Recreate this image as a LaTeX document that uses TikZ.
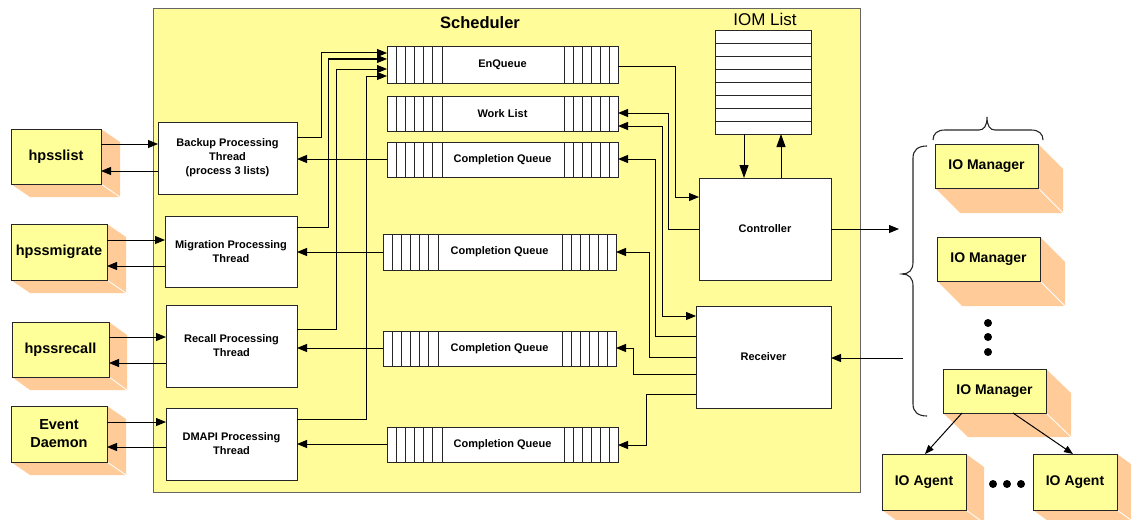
\documentclass[tikz,border=0pt]{standalone}
\usepackage{fontspec}
\setmainfont{Liberation Sans}
\usetikzlibrary{arrows.meta,backgrounds}
\definecolor{schedfill}{HTML}{FFFC99}
\definecolor{boxfill}{HTML}{FFFF99}
\definecolor{shadecol}{HTML}{FFCC99}

\tikzset{
  box/.style={draw=black!85, line width=1pt, inner sep=0pt, outer sep=0pt,
    anchor=north west, align=center},
  ext/.style={box, fill=boxfill, font=\bfseries\fontsize{14.5}{17}\selectfont},
  thread/.style={box, fill=white, font=\bfseries\fontsize{11}{14}\selectfont},
  queue/.style={box, fill=white, font=\bfseries\fontsize{11}{14}\selectfont},
  cell/.style={draw=black!85, line width=0.8pt},
  wire/.style={draw=black, line width=1pt},
  arr/.style={wire, -{Triangle[length=10pt,width=8pt]}},
  darr/.style={wire, {Triangle[length=10pt,width=8pt]}-{Triangle[length=10pt,width=8pt]}},
  varr/.style={wire, -{Triangle[length=13pt,width=9pt]}},
  sarr/.style={wire, -{Triangle[length=9pt,width=7pt]}},
  bracecurve/.style={draw=black!85, line width=1.1pt},
}

% extruded shade behind a box: name, dx, dy
\newcommand\solidshade[3]{%
  \fill[shadecol] (#1.north east) -- ++(#2,#3)
    -- ([shift={(#2,#3)}]#1.south east) -- ([shift={(#2,#3)}]#1.south west)
    -- (#1.south west) -- cycle;
  \draw[white, line width=0.8pt] (#1.south east) -- ++(#2,#3);
}

% six slots at each end of a queue
\newcommand\queuecells[1]{%
  \foreach \i in {1,...,6}{
    \draw[cell] ([xshift=\i*9.17pt]#1.north west) -- ([xshift=\i*9.17pt]#1.south west);
    \draw[cell] ([xshift=-\i*9pt]#1.north east) -- ([xshift=-\i*9pt]#1.south east);
  }%
}

\begin{document}
\begin{tikzpicture}[x=1pt,y=-1pt]
\useasboundingbox (0,0) rectangle (1131,519);

% ---------- Scheduler frame ----------
\node[box, draw=black!60, fill=schedfill, minimum width=707pt, minimum height=483pt] (sched) at (153,9) {};
\node[font=\bfseries\fontsize{16.5}{19}\selectfont] (schedtitle) at (480,23) {Scheduler};

% ---------- external programs ----------
\node[ext, minimum width=90pt, minimum height=55pt] (hlist) at (11,129) {hpsslist};
\node[ext, minimum width=96pt, minimum height=56pt] (hmig) at (11,224) {hpssmigrate};
\node[ext, minimum width=97pt, minimum height=55pt] (hrec) at (12,322) {hpssrecall};
\node[ext, minimum width=96pt, minimum height=56pt] (evd) at (11,406) {Event\\[1pt]Daemon};
\begin{scope}[on background layer]
  \solidshade{hlist}{19}{13}
  \solidshade{hmig}{19}{13}
  \solidshade{hrec}{18}{13}
  \solidshade{evd}{19}{13}
\end{scope}

% ---------- processing threads ----------
\node[thread, minimum width=139pt, minimum height=72pt] (bk) at (158,122) {Backup Processing\\Thread\\(process 3 lists)};
\node[thread, minimum width=132pt, minimum height=71pt] (mig) at (165,216) {Migration Processing\\Thread};
\node[thread, minimum width=131pt, minimum height=82pt] (recth) at (166,305) {Recall Processing\\Thread};
\node[thread, minimum width=131pt, minimum height=72pt] (dm) at (166,408) {DMAPI Processing\\Thread};

% ---------- queues ----------
\node[queue, minimum width=231pt, minimum height=36pt] (enq) at (387,47) {EnQueue};
\node[queue, minimum width=231pt, minimum height=35pt] (wl) at (387,96) {Work List};
\node[queue, minimum width=231pt, minimum height=35pt] (cq1) at (387,142) {Completion Queue};
\node[queue, minimum width=233pt, minimum height=36pt] (cq2) at (383,234) {Completion Queue};
\node[queue, minimum width=233pt, minimum height=35pt] (cq3) at (383,331) {Completion Queue};
\node[queue, minimum width=231pt, minimum height=35pt] (cq4) at (387,427) {Completion Queue};
\foreach \q in {enq,wl,cq1,cq2,cq3,cq4} { \queuecells{\q} }

% ---------- controller, receiver, IOM list ----------
\node[thread, minimum width=132pt, minimum height=102pt] (ctl) at (699,178) {Controller};
\node[thread, minimum width=135pt, minimum height=102pt] (rcv) at (696,306) {Receiver};
\node[box, fill=white, minimum width=96pt, minimum height=103pt] (ioml) at (715,31) {};
\foreach \k in {1,...,7} {
  \draw[cell] ([yshift=-\k*12.875pt]ioml.north west) -- ([yshift=-\k*12.875pt]ioml.north east);
}
\node[font=\fontsize{17}{20}\selectfont] (iomltitle) at (765,19) {IOM List};

% ---------- IO managers and agents ----------
\node[ext, font=\bfseries\fontsize{14}{17}\selectfont, minimum width=103pt, minimum height=44pt] (iom1) at (935,144) {IO Manager};
\node[ext, font=\bfseries\fontsize{14}{17}\selectfont, minimum width=103pt, minimum height=44pt] (iom2) at (937,237) {IO Manager};
\node[ext, font=\bfseries\fontsize{14}{17}\selectfont, minimum width=103pt, minimum height=44pt] (iom3) at (943,369) {IO Manager};
\node[ext, font=\bfseries\fontsize{14}{17}\selectfont, minimum width=84pt, minimum height=56pt] (ag1) at (882,454) {IO Agent};
\node[ext, font=\bfseries\fontsize{14}{17}\selectfont, minimum width=84pt, minimum height=56pt] (ag2) at (1033,454) {IO Agent};
\begin{scope}[on background layer]
  \solidshade{iom1}{25}{25}
  \solidshade{iom2}{25}{25}
  \solidshade{iom3}{25}{24}
  \solidshade{ag1}{18}{13}
  \solidshade{ag2}{18}{13}
\end{scope}
\foreach \yy in {323,337,352} { \fill (988,\yy) circle[radius=4pt]; }
\foreach \xx in {993,1007,1021} { \fill (\xx,484) circle[radius=4pt]; }

% braces grouping the IO managers
\draw[bracecurve] (927,146) .. controls (918,146) and (913,150) .. (913,158)
  -- (913,262) .. controls (913,270) and (909,274) .. (902,274)
  .. controls (909,274) and (913,278) .. (913,286)
  -- (913,404) .. controls (913,412) and (918,416) .. (927,416);
\draw[bracecurve] (933,140) .. controls (933,134) and (937,130) .. (945,130)
  -- (979,130) .. controls (984,130) and (987,126) .. (987,117)
  .. controls (987,126) and (990,130) .. (995,130)
  -- (1031,130) .. controls (1039,130) and (1043,134) .. (1043,140);

% ---------- external programs <-> threads ----------
\draw[arr] (hlist.east |- 0,144) -- (bk.west |- 0,144);
\draw[arr] (bk.west |- 0,171) -- (hlist.east |- 0,171);
\draw[arr] (hmig.east |- 0,240) -- (mig.west |- 0,240);
\draw[arr] (mig.west |- 0,266) -- (hmig.east |- 0,266);
\draw[arr] (hrec.east |- 0,337) -- (recth.west |- 0,337);
\draw[arr] (recth.west |- 0,363) -- (hrec.east |- 0,363);
\draw[arr] (evd.east |- 0,422) -- (dm.west |- 0,422);
\draw[arr] (dm.west |- 0,447) -- (evd.east |- 0,447);

% ---------- threads -> EnQueue ----------
\draw[arr] (bk.east |- 0,137) -| (321,53) -- (enq.west |- 0,53);
\draw[arr] (mig.east |- 0,227) -| (328,59) -- (enq.west |- 0,59);
\draw[arr] (recth.east |- 0,329) -| (336,69) -- (enq.west |- 0,69);
\draw[arr] (dm.east |- 0,419) -| (366,76) -- (enq.west |- 0,76);

% ---------- completion queues -> threads ----------
\draw[arr] (cq1.west |- 0,159) -- (bk.east |- 0,159);
\draw[arr] (cq2.west |- 0,252) -- (mig.east |- 0,252);
\draw[arr] (cq3.west |- 0,348) -- (recth.east |- 0,348);
\draw[arr] (cq4.west |- 0,444) -- (dm.east |- 0,444);

% ---------- controller / receiver wiring ----------
\draw[arr] (enq.east |- 0,66) -| (675,197) -- (ctl.west |- 0,197);
\draw[arr] (ctl.west |- 0,229) -| (668,113) -- (wl.east |- 0,113);
\draw[darr] (rcv.west |- 0,316) -| (662,126) -- (wl.east |- 0,126);
\draw[arr] (rcv.west |- 0,336) -| (655,159) -- (cq1.east |- 0,159);
\draw[arr] (rcv.west |- 0,357) -| (649,252) -- (cq2.east |- 0,252);
\draw[arr] (rcv.west |- 0,374) -| (633,348) -- (cq3.east |- 0,348);
\draw[arr] (rcv.west |- 0,394) -| (646,445) -- (cq4.east |- 0,445);
\draw[varr] (ioml.south -| 744,0) -- (ctl.north -| 744,0);
\draw[varr] (ctl.north -| 781,0) -- (ioml.south -| 781,0);

% ---------- to and from the IO managers ----------
\coordinate (toiom) at (899,229);
\coordinate (fromiom) at (903,358);
\draw[arr] (ctl.east |- 0,229) -- (toiom);
\draw[arr] (fromiom) -- (rcv.east |- 0,358);
\draw[sarr] (iom3.south -| 962,0) -- (ag1.north -| 925,0);
\draw[sarr] (iom3.south -| 1013,0) -- (ag2.north -| 1073,0);
\end{tikzpicture}
\end{document}
